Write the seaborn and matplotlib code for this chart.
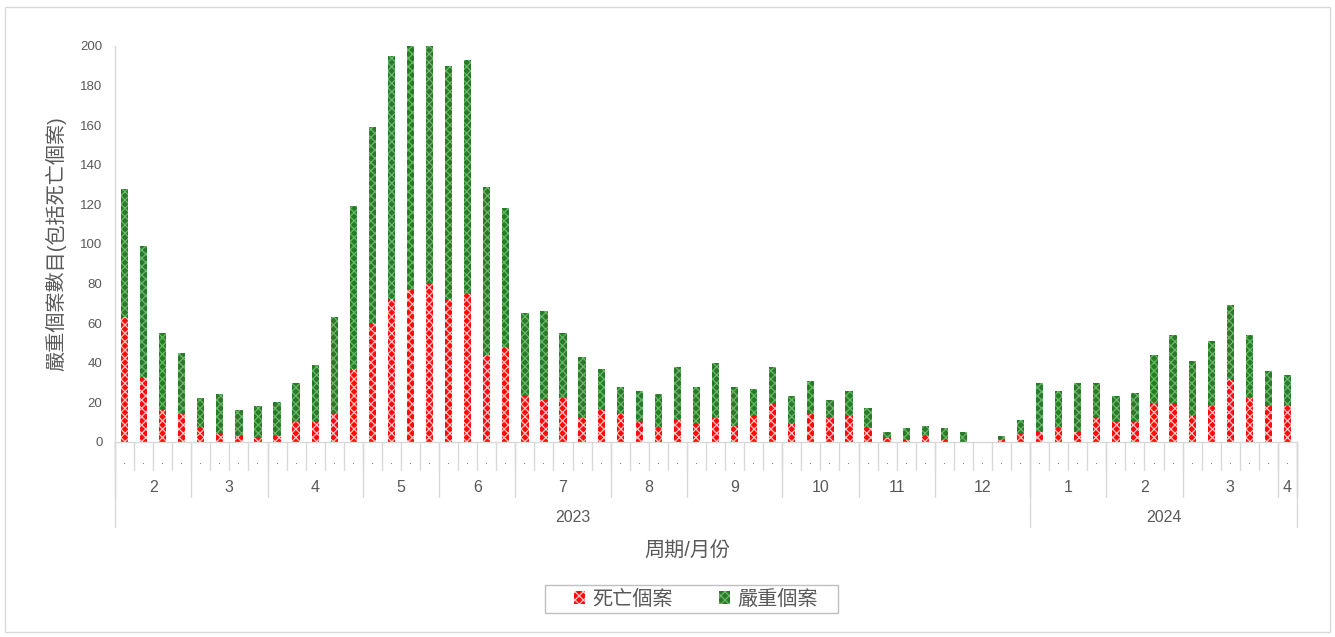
import numpy as np
import pandas as pd
import matplotlib
matplotlib.use("Agg")
import matplotlib.pyplot as plt
import seaborn as sns
from matplotlib.patches import Rectangle

# ---- data ----
severe = [128, 99, 55, 45, 22, 24, 16, 18, 20, 30, 39, 63, 119, 159, 195, 200, 200, 190, 193,
          129, 118, 65, 66, 55, 43, 37, 28, 26, 24, 38, 28, 40, 28, 27, 38, 23, 31, 21, 26, 17,
          5, 7, 8, 7, 5, 0, 3, 11, 30, 26, 30, 30, 23, 25, 44, 54, 41, 51, 69, 54, 36, 34]
deaths = [63, 33, 16, 14, 7, 4, 3, 2, 3, 10, 10, 14, 37, 60, 72, 77, 80, 72, 75,
          44, 48, 23, 21, 22, 12, 16, 14, 10, 7, 11, 9, 12, 8, 13, 19, 9, 14, 12, 13, 7,
          2, 1, 3, 1, 0, 0, 1, 4, 5, 7, 5, 12, 10, 10, 19, 19, 13, 18, 32, 22, 18, 18]
month_labels = ["2", "3", "4", "5", "6", "7", "8", "9", "10", "11", "12", "1", "2", "3", "4"]
weeks_per_month = [4, 4, 5, 4, 4, 5, 4, 5, 4, 4, 5, 4, 4, 5, 1]
year_labels = ["2023", "2024"]
months_per_year = [11, 4]
week_tick_labels = ["."] * len(severe)
legend_labels = ["死亡個案", "嚴重個案"]
xlabel = "周期/月份"
ylabel = "嚴重個案數目(包括死亡個案)"

sns.set_theme(style="white")
plt.rcParams['font.family'] = ['Liberation Sans', 'Noto Sans CJK TC', 'DejaVu Sans']
plt.rcParams['hatch.linewidth'] = 0.9

W, H = 1335, 637
fig = plt.figure(figsize=(W / 100, H / 100), dpi=100)
L, R, T, B = 115, 1297, 46, 442
ax = fig.add_axes([L / W, (H - B) / H, (R - L) / W, (B - T) / H])

df = pd.DataFrame({"week": np.arange(len(severe)), "severe": severe, "deaths": deaths})

green = "#2a7a2a"
green_h = "#6bb86b"
red = "#ff0a0a"
red_h = "#ffc4c4"
sns.barplot(data=df, x="week", y="severe", color=green, width=0.38, ax=ax,
            saturation=1, hatch="xxxx", edgecolor=green_h, linewidth=0)
sns.barplot(data=df, x="week", y="deaths", color=red, width=0.38, ax=ax,
            saturation=1, hatch="xxxx", edgecolor=red_h, linewidth=0)

n = len(severe)
ax.set_xlim(-0.5, n - 0.5)
ax.set_ylim(0, 200)
ax.set_yticks(range(0, 201, 20))
ax.tick_params(axis="y", labelsize=9.5, colors="#595959", length=0, pad=9)
ax.set_xticks([])
ax.set_xlabel("")
ax.set_ylabel(ylabel, fontsize=14.5, color="#595959", labelpad=10)
for s in ["top", "right"]:
    ax.spines[s].set_visible(False)
for s in ["left", "bottom"]:
    ax.spines[s].set_color("#d9d9d9")
    ax.spines[s].set_linewidth(1)

# multi-level category axis
ph = B - T
def yfrac(py):
    return (B - py) / ph

tr = ax.get_xaxis_transform()
lc = "#d9d9d9"
for i in range(n + 1):
    ax.plot([i - 0.5, i - 0.5], [0, yfrac(470)], color=lc, lw=1, transform=tr, clip_on=False)
for i, lab in enumerate(week_tick_labels):
    ax.text(i, yfrac(461), lab, transform=tr, ha="center", va="center", fontsize=8, color="#595959")
pos = 0
bounds = [0]
for lab, nw in zip(month_labels, weeks_per_month):
    ax.text(pos + nw / 2 - 0.5, yfrac(488), lab, transform=tr, ha="center", va="center",
            fontsize=11.5, color="#595959")
    pos += nw
    bounds.append(pos)
for b in bounds:
    ax.plot([b - 0.5, b - 0.5], [0, yfrac(497)], color=lc, lw=1, transform=tr, clip_on=False)
mi = 0
ypos = 0
ybounds = [0]
for lab, nm in zip(year_labels, months_per_year):
    nw = sum(weeks_per_month[mi:mi + nm])
    ax.text(ypos + nw / 2 - 0.5, yfrac(517), lab, transform=tr, ha="center", va="center",
            fontsize=11.5, color="#595959")
    mi += nm
    ypos += nw
    ybounds.append(ypos)
for b in ybounds:
    ax.plot([b - 0.5, b - 0.5], [0, yfrac(527)], color=lc, lw=1, transform=tr, clip_on=False)

fig.text(687 / W, 1 - 551 / H, xlabel, ha="center", va="center",
         fontsize=14.5, color="#595959")

# legend (manual frame)
fig.patches.append(Rectangle((545 / W, 1 - 613 / H), (838 - 545) / W, 28 / H,
                             transform=fig.transFigure, fill=False, edgecolor="#bfbfbf",
                             linewidth=1))
h1 = Rectangle((0, 0), 1, 1, facecolor=red, hatch="xxxx", edgecolor=red_h, linewidth=0)
h2 = Rectangle((0, 0), 1, 1, facecolor=green, hatch="xxxx", edgecolor=green_h, linewidth=0)
leg = fig.legend([h1, h2], legend_labels, loc="center", bbox_to_anchor=(696 / W, 1 - 599 / H),
                 ncol=2, frameon=False, fontsize=14.5, handlelength=0.55, handleheight=0.6,
                 handletextpad=0.35, columnspacing=2.3, borderpad=0.15, borderaxespad=0)
for t in leg.get_texts():
    t.set_color("#595959")

fig.patches.append(Rectangle((5 / W, 5 / H), 1 - 10 / W, 1 - 12 / H, transform=fig.transFigure,
                             fill=False, edgecolor="#d9d9d9", linewidth=1))

fig.savefig("out.png", dpi=100)
